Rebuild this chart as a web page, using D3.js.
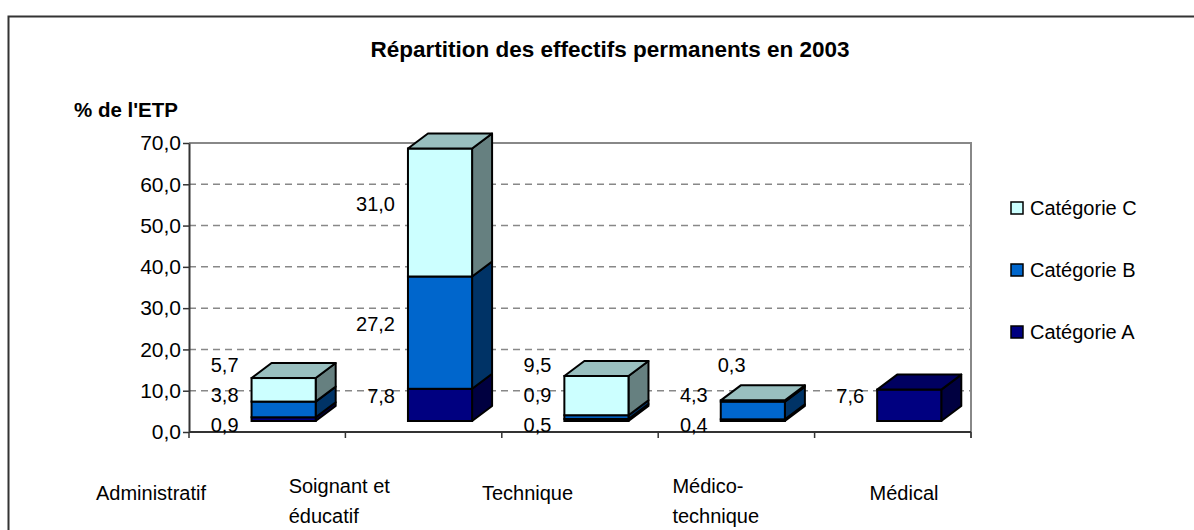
<!DOCTYPE html>
<html lang="fr">
<head>
<meta charset="utf-8">
<title>Répartition des effectifs permanents en 2003</title>
<script src="https://cdn.jsdelivr.net/npm/d3@7"></script>
<style>
  body { margin: 0; background: #fff; }
  svg { font-family: "Liberation Sans", Arial, sans-serif; }
</style>
</head>
<body>
<script>
// data
var categories = ["Administratif", "Soignant et éducatif", "Technique", "Médico-technique", "Médical"];
var categoryLines = [["Administratif"], ["Soignant et", "éducatif"], ["Technique"], ["Médico-", "technique"], ["Médical"]];
var seriesNames = ["Catégorie A", "Catégorie B", "Catégorie C"];
var catA = [0.9, 7.8, 0.5, 0.4, 7.6];
var catB = [3.8, 27.2, 0.9, 4.3, 0];
var catC = [5.7, 31.0, 9.5, 0.3, 0];
var yTicks = [0, 10, 20, 30, 40, 50, 60, 70];
var seriesColors = ["#000080", "#0066CC", "#CCFFFF"];

var W = 1194, H = 530;
var dx = 20, dy = 15, lift = 11;

var rows = categories.map(function (c, i) {
    return { cat: c, "Catégorie A": catA[i], "Catégorie B": catB[i], "Catégorie C": catC[i] };
});
var stacked = d3.stack().keys(seriesNames)(rows);

var locale = d3.formatLocale({ decimal: ",", thousands: " ", grouping: [3], currency: ["", " €"] });
var fmt = locale.format(".1f");

function shade(c, k) {
    var r = d3.rgb(c);
    return d3.rgb(r.r * k, r.g * k, r.b * k).formatHex();
}

var svg = d3.select("body").append("svg")
    .attr("width", W).attr("height", H);

// outer chart frame (runs off the right and bottom edges)
svg.append("rect")
    .attr("x", 8.5).attr("y", 16.5)
    .attr("width", W + 20).attr("height", H + 20)
    .attr("fill", "#fff").attr("stroke", "#333").attr("stroke-width", 2);

svg.append("text")
    .attr("x", 610).attr("y", 57)
    .attr("text-anchor", "middle")
    .attr("font-size", 22.5).attr("font-weight", "bold")
    .text("Répartition des effectifs permanents en 2003");

svg.append("text")
    .attr("x", 74).attr("y", 117)
    .attr("font-size", 20.5).attr("font-weight", "bold")
    .text("% de l'ETP");

var x = d3.scaleBand().domain(categories).range([189, 971]);
var y = d3.scaleLinear().domain([0, 70]).range([432, 143]);
var bw = x.bandwidth();

// gridlines
svg.append("g").selectAll("line")
    .data(yTicks.filter(function (t) { return t > 0 && t < 70; }))
    .enter().append("line")
    .attr("x1", 189).attr("x2", 971)
    .attr("y1", function (d) { return y(d); })
    .attr("y2", function (d) { return y(d); })
    .attr("stroke", "#888").attr("stroke-width", 1.5)
    .attr("stroke-dasharray", "7,5");

// plot frame top + right
svg.append("path")
    .attr("d", "M189," + y(70) + "H971V438")
    .attr("fill", "none").attr("stroke", "#888").attr("stroke-width", 2);

// y axis
var yAxis = svg.append("g")
    .attr("transform", "translate(189,0)")
    .call(d3.axisLeft(y).tickValues(yTicks).tickSize(6).tickSizeOuter(0).tickPadding(2).tickFormat(fmt));
yAxis.select(".domain").attr("stroke", "#333").attr("stroke-width", 2);
yAxis.selectAll(".tick line").attr("stroke", "#333").attr("stroke-width", 1.5);
yAxis.selectAll(".tick text").attr("font-size", 21).attr("font-family", "Liberation Sans, Arial, sans-serif").attr("fill", "#000");

// x axis line and boundary ticks
svg.append("line")
    .attr("x1", 189).attr("x2", 971).attr("y1", y(0)).attr("y2", y(0))
    .attr("stroke", "#333").attr("stroke-width", 2);
var bounds = categories.map(function (c) { return x(c); }).concat([x.range()[1]]);
svg.append("g").selectAll("line")
    .data(bounds).enter().append("line")
    .attr("x1", function (d) { return d; }).attr("x2", function (d) { return d; })
    .attr("y1", y(0)).attr("y2", y(0) + 6)
    .attr("stroke", "#333").attr("stroke-width", 1.5);

// 3d stacked bars
var barG = svg.append("g");
var labelG = svg.append("g");
categories.forEach(function (c, i) {
    var x0 = x(c) + bw * 0.4, x1 = x0 + bw * 0.41;
    var segs = [];
    stacked.forEach(function (s, k) {
        var v0 = s[i][0], v1 = s[i][1];
        if (v1 - v0 <= 0) return;
        segs.push({ k: k, v: v1 - v0, yb: y(v0) - lift, yt: y(v1) - lift });
    });
    segs.forEach(function (s, j) {
        var col = seriesColors[s.k];
        // side
        barG.append("path")
            .attr("d", "M" + x1 + "," + s.yb + "L" + (x1 + dx) + "," + (s.yb - dy) +
                "L" + (x1 + dx) + "," + (s.yt - dy) + "L" + x1 + "," + s.yt + "Z")
            .attr("fill", shade(col, 0.5)).attr("stroke", "#000").attr("stroke-width", 2)
            .attr("stroke-linejoin", "round");
        // front
        barG.append("rect")
            .attr("x", x0).attr("y", s.yt).attr("width", x1 - x0).attr("height", s.yb - s.yt)
            .attr("fill", col).attr("stroke", "#000").attr("stroke-width", 2);
        if (j === segs.length - 1) {
            barG.append("path")
                .attr("d", "M" + x0 + "," + s.yt + "L" + (x0 + dx) + "," + (s.yt - dy) +
                    "L" + (x1 + dx) + "," + (s.yt - dy) + "L" + x1 + "," + s.yt + "Z")
                .attr("fill", shade(col, 0.75)).attr("stroke", "#000").attr("stroke-width", 2)
                .attr("stroke-linejoin", "round");
        }
    });

    // value labels: wanted at segment middle, spread apart when they collide
    var want = segs.map(function (s) { return (s.yb + s.yt) / 2 - 9; });
    var pos = want.slice();
    var gap = 30;
    var clash = false;
    for (var j = 1; j < pos.length; j++) if (pos[j - 1] - pos[j] < gap) clash = true;
    if (clash) {
        var mean = d3.mean(want);
        var n = pos.length;
        pos = pos.map(function (p, j) { return mean + ((n - 1) / 2 - j) * gap; });
        var over = pos[0] - 425;
        if (over > 0) pos = pos.map(function (p) { return p - over; });
    }
    segs.forEach(function (s, j) {
        // a sliver on top of the stack gets its label over the top face
        var onTop = j === segs.length - 1 && j > 0 && (s.yb - s.yt) < 4;
        labelG.append("text")
            .attr("x", onTop ? x0 - 3 : x0 - 13).attr("y", pos[j])
            .attr("dy", "0.35em")
            .attr("text-anchor", onTop ? "start" : "end")
            .attr("font-size", 20)
            .text(fmt(s.v));
    });
});

// category labels (spread wider than the bands, as in the source)
var xl = d3.scalePoint().domain(categories).range([151, 904]);
categories.forEach(function (c, i) {
    var lines = categoryLines[i];
    var t = svg.append("text").attr("font-size", 20);
    lines.forEach(function (l, j) {
        t.append("tspan").attr("y", 500 - 7 * (lines.length - 1) + j * 30).text(l);
    });
    var wmax = 0;
    t.selectAll("tspan").each(function () { wmax = Math.max(wmax, this.getComputedTextLength()); });
    t.selectAll("tspan").attr("x", xl(c) - wmax / 2);
});

// legend
var legendOrder = seriesNames.slice().reverse();
var lg = svg.append("g");
legendOrder.forEach(function (name, j) {
    var k = seriesNames.indexOf(name);
    var cy = 208 + j * 62;
    lg.append("rect")
        .attr("x", 1011).attr("y", cy - 6).attr("width", 12).attr("height", 12)
        .attr("fill", seriesColors[k]).attr("stroke", "#000").attr("stroke-width", 1.5);
    lg.append("text")
        .attr("x", 1030).attr("y", cy).attr("dy", "0.35em")
        .attr("font-size", 20)
        .text(name);
});
</script>
</body>
</html>
